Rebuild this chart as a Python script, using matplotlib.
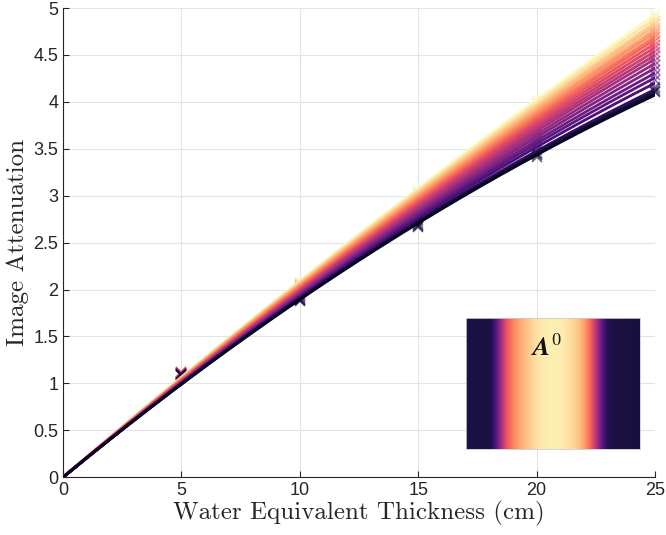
import numpy as np
import matplotlib
matplotlib.use("Agg")
import matplotlib.pyplot as plt

# measured attenuation at each water thickness, one row per curve (dark -> light)
thickness = [5, 10, 15, 20, 25]
attenuation = [
    [1.09, 1.88, 2.67, 3.41, 4.10],
    [1.09, 1.89, 2.68, 3.43, 4.12],
    [1.09, 1.89, 2.69, 3.44, 4.14],
    [1.09, 1.90, 2.70, 3.45, 4.16],
    [1.10, 1.91, 2.72, 3.49, 4.23],
    [1.10, 1.92, 2.74, 3.52, 4.29],
    [1.10, 1.93, 2.76, 3.55, 4.34],
    [1.10, 1.94, 2.78, 3.59, 4.39],
    [1.10, 1.95, 2.80, 3.62, 4.44],
    [1.11, 1.96, 2.82, 3.65, 4.49],
    [1.11, 1.97, 2.84, 3.68, 4.53],
    [1.11, 1.98, 2.86, 3.71, 4.57],
    [1.11, 1.99, 2.88, 3.74, 4.61],
    [1.11, 2.00, 2.90, 3.77, 4.65],
    [1.11, 2.01, 2.92, 3.80, 4.69],
    [1.12, 2.02, 2.94, 3.83, 4.72],
    [1.12, 2.03, 2.96, 3.86, 4.76],
    [1.12, 2.04, 2.98, 3.89, 4.79],
    [1.12, 2.05, 3.00, 3.92, 4.83],
    [1.12, 2.06, 3.02, 3.95, 4.86],
    [1.12, 2.07, 3.04, 3.99, 4.90],
    [1.12, 2.08, 3.06, 4.02, 4.94],
]

# horizontal profile of the A^0 image (normalised)
a0_profile = [0.12, 0.12, 0.12, 0.13, 0.35, 0.62, 0.74, 0.82, 0.88, 0.93, 0.96, 0.97,
              0.97, 0.96, 0.93, 0.88, 0.78, 0.62, 0.35, 0.14, 0.12, 0.12, 0.12, 0.11]

xticks = [0, 5, 10, 15, 20, 25]
yticks = [0, 0.5, 1, 1.5, 2, 2.5, 3, 3.5, 4, 4.5, 5]

plt.rcParams['font.family'] = ['Liberation Sans', 'DejaVu Sans']
plt.rcParams['mathtext.fontset'] = 'cm'

fig = plt.figure(figsize=(6.66, 5.35), dpi=100)
ax = fig.add_axes([0.0946, 0.108, 0.889, 0.877])

cmap = plt.get_cmap('magma')
n = len(attenuation)
cols = cmap(np.linspace(0.06, 0.99, n))
xs = np.array(thickness, dtype=float)
xfine = np.linspace(0, 25, 200)
A = np.column_stack([xs, xs ** 2])
for i in range(n - 1, -1, -1):
    ys = np.array(attenuation[i])
    coef = np.linalg.lstsq(A, ys, rcond=None)[0]
    ax.plot(xfine, coef[0] * xfine + coef[1] * xfine ** 2, color=cols[i], lw=2.0, zorder=3 + (n - i) * 0.01)
    ax.plot(xs, ys, 'x', color=cols[i], ms=7, mew=1.2, alpha=0.6, zorder=3, clip_on=False)

ax.set_xlim(0, 25)
ax.set_ylim(0, 5)
ax.set_xticks(xticks)
ax.set_yticks(yticks)
ax.set_xticklabels([str(t) for t in xticks])
ax.set_yticklabels(['0', '0.5', '1', '1.5', '2', '2.5', '3', '3.5', '4', '4.5', '5'])
ax.tick_params(direction='in', length=4, width=0.8, labelsize=13, colors='#262626')
ax.grid(True, color='#e3e3e3', lw=0.8)
ax.set_axisbelow(True)
for s in ['top', 'right']:
    ax.spines[s].set_visible(False)
for s in ['left', 'bottom']:
    ax.spines[s].set_color('#262626')
    ax.spines[s].set_linewidth(0.8)

ax.set_xlabel('Water Equivalent Thickness (cm)', family='cmr10', fontsize=18, color='#262626', labelpad=1)
ax.set_ylabel('Image Attenuation', family='cmr10', fontsize=18, color='#262626', labelpad=3)

# inset image
ins = fig.add_axes([0.700, 0.161, 0.261, 0.245])
img = np.tile(np.array(a0_profile), (10, 1))
ins.imshow(img, cmap='magma', vmin=0, vmax=1, aspect='auto', interpolation='bilinear')
ins.set_xticks([])
ins.set_yticks([])
for s in ins.spines.values():
    s.set_color('#cccccc')
    s.set_linewidth(0.6)
ins.text(0.46, 0.77, r'$\mathbfit{A}^{0}$', transform=ins.transAxes, ha='center', va='center',
         fontsize=19, color='#111111')

fig.savefig('out.png', dpi=100)
